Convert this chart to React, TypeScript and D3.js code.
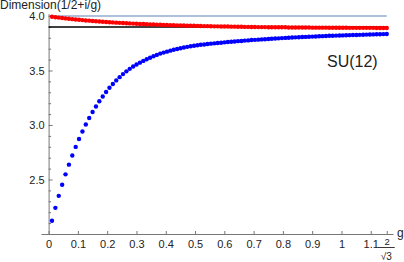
import { useEffect, useRef } from 'react'
import * as d3 from 'd3'

// sample points g_k (k = 1..100, up to 2/sqrt(3))
const gValues = [
  0.0115, 0.0231, 0.0346, 0.0462, 0.0577, 0.0693, 0.0808, 0.0924, 0.1039, 0.1155,
  0.127, 0.1386, 0.1501, 0.1617, 0.1732, 0.1848, 0.1963, 0.2078, 0.2194, 0.2309,
  0.2425, 0.254, 0.2656, 0.2771, 0.2887, 0.3002, 0.3118, 0.3233, 0.3349, 0.3464,
  0.358, 0.3695, 0.3811, 0.3926, 0.4041, 0.4157, 0.4272, 0.4388, 0.4503, 0.4619,
  0.4734, 0.485, 0.4965, 0.5081, 0.5196, 0.5312, 0.5427, 0.5543, 0.5658, 0.5774,
  0.5889, 0.6004, 0.612, 0.6235, 0.6351, 0.6466, 0.6582, 0.6697, 0.6813, 0.6928,
  0.7044, 0.7159, 0.7275, 0.739, 0.7506, 0.7621, 0.7737, 0.7852, 0.7967, 0.8083,
  0.8198, 0.8314, 0.8429, 0.8545, 0.866, 0.8776, 0.8891, 0.9007, 0.9122, 0.9238,
  0.9353, 0.9469, 0.9584, 0.97, 0.9815, 0.993, 1.0046, 1.0161, 1.0277, 1.0392,
  1.0508, 1.0623, 1.0739, 1.0854, 1.097, 1.1085, 1.1201, 1.1316, 1.1432, 1.1547,
]

const blueValues = [
  2.122, 2.24, 2.35, 2.452, 2.547, 2.636, 2.72, 2.799, 2.872, 2.94,
  3.004, 3.064, 3.119, 3.17, 3.218, 3.262, 3.303, 3.341, 3.376, 3.409,
  3.439, 3.467, 3.492, 3.515, 3.536, 3.555, 3.572, 3.588, 3.603, 3.617,
  3.63, 3.643, 3.655, 3.664, 3.673, 3.682, 3.69, 3.697, 3.704, 3.711,
  3.717, 3.722, 3.727, 3.732, 3.736, 3.739, 3.743, 3.746, 3.749, 3.752,
  3.755, 3.758, 3.761, 3.764, 3.766, 3.769, 3.771, 3.774, 3.776, 3.779,
  3.781, 3.783, 3.785, 3.787, 3.789, 3.791, 3.793, 3.795, 3.797, 3.799,
  3.8, 3.802, 3.804, 3.805, 3.807, 3.808, 3.81, 3.811, 3.812, 3.814,
  3.815, 3.816, 3.818, 3.819, 3.82, 3.821, 3.822, 3.823, 3.824, 3.825,
  3.826, 3.827, 3.828, 3.829, 3.83, 3.831, 3.832, 3.833, 3.834, 3.835,
]

const redValues = [
  3.993, 3.989, 3.985, 3.981, 3.978, 3.974, 3.971, 3.968, 3.965, 3.962,
  3.959, 3.957, 3.954, 3.952, 3.949, 3.947, 3.945, 3.943, 3.941, 3.939,
  3.937, 3.935, 3.933, 3.932, 3.93, 3.929, 3.927, 3.926, 3.924, 3.923,
  3.922, 3.921, 3.92, 3.918, 3.917, 3.916, 3.915, 3.914, 3.913, 3.912,
  3.911, 3.911, 3.91, 3.909, 3.908, 3.907, 3.907, 3.906, 3.905, 3.905,
  3.904, 3.903, 3.903, 3.902, 3.902, 3.901, 3.901, 3.9, 3.9, 3.899,
  3.899, 3.898, 3.898, 3.898, 3.897, 3.897, 3.897, 3.896, 3.896, 3.896,
  3.895, 3.895, 3.895, 3.894, 3.894, 3.894, 3.894, 3.893, 3.893, 3.893,
  3.893, 3.893, 3.892, 3.892, 3.892, 3.892, 3.892, 3.892, 3.891, 3.891,
  3.891, 3.891, 3.891, 3.891, 3.891, 3.891, 3.89, 3.89, 3.89, 3.89,
]

const xTickValues = [0, 0.1, 0.2, 0.3, 0.4, 0.5, 0.6, 0.7, 0.8, 0.9, 1, 1.1]
const gMax = 1.1547 // 2/sqrt(3)
const yMajorTicks = [2.5, 3.0, 3.5, 4.0]
const yMinorTicks = [2.1, 2.2, 2.3, 2.4, 2.6, 2.7, 2.8, 2.9, 3.1, 3.2, 3.3, 3.4, 3.6, 3.7, 3.8, 3.9]
const upperLevel = 4.0
const lowerLevel = 3.9

const FONT = "'Liberation Sans', Arial, sans-serif"

export default function App() {
  const svgRef = useRef<SVGSVGElement>(null)

  useEffect(() => {
    if (!svgRef.current) return
    const svg = d3.select(svgRef.current)
    svg.selectAll('*').remove()

    const width = 404
    const height = 262

    svg.attr('width', width).attr('height', height)

    const xScale = d3.scaleLinear().domain([-0.026, 1.176]).range([41, 393])
    const yScale = d3.scaleLinear().domain([2, 4.02]).range([234, 13.8])

    // x axis
    const xAxis = d3
      .axisBottom(xScale)
      .tickValues([...xTickValues, gMax])
      .tickSize(-3)
      .tickSizeOuter(0)
      .tickPadding(6)
      .tickFormat(d => (d === gMax ? '' : String(d)))

    const gx = svg.append('g').attr('transform', 'translate(0,234)').call(xAxis)
    gx.select('.domain').attr('stroke', '#777')
    gx.selectAll('.tick line').attr('stroke', '#777')
    gx.selectAll('.tick text')
      .attr('fill', '#222')
      .style('font-family', FONT)
      .style('font-size', '11px')

    // y axis
    const yAxis = d3
      .axisLeft(yScale)
      .tickValues(yMajorTicks)
      .tickSize(-4)
      .tickSizeOuter(0)
      .tickPadding(4)
      .tickFormat(d3.format('.1f') as any)

    const gy = svg.append('g').attr('transform', 'translate(48.6,0)').call(yAxis)
    gy.select('.domain').attr('stroke', '#777')
    gy.selectAll('.tick line').attr('stroke', '#777')
    gy.selectAll('.tick text')
      .attr('fill', '#222')
      .style('font-family', FONT)
      .style('font-size', '11px')

    const yMinor = d3
      .axisLeft(yScale)
      .tickValues(yMinorTicks)
      .tickSize(-2.5)
      .tickSizeOuter(0)
      .tickFormat(() => '')
    const gyMinor = svg.append('g').attr('transform', 'translate(48.6,0)').call(yMinor)
    gyMinor.select('.domain').remove()
    gyMinor.selectAll('.tick line').attr('stroke', '#777')

    // reference lines
    svg.append('line')
      .attr('x1', xScale(0))
      .attr('x2', xScale(gMax))
      .attr('y1', yScale(upperLevel))
      .attr('y2', yScale(upperLevel))
      .attr('stroke', '#5e81b5')
      .attr('stroke-width', 1.2)

    svg.append('line')
      .attr('x1', xScale(0))
      .attr('x2', xScale(gMax))
      .attr('y1', yScale(lowerLevel))
      .attr('y2', yScale(lowerLevel))
      .attr('stroke', '#000')
      .attr('stroke-width', 1.5)

    // points
    const redData = gValues.map((g, i) => ({ g, v: redValues[i] }))
    const blueData = gValues.map((g, i) => ({ g, v: blueValues[i] }))

    svg.append('g')
      .selectAll('circle')
      .data(redData)
      .join('circle')
      .attr('cx', d => xScale(d.g))
      .attr('cy', d => yScale(d.v))
      .attr('r', 2.2)
      .attr('fill', '#ff0000')

    svg.append('g')
      .selectAll('circle')
      .data(blueData)
      .join('circle')
      .attr('cx', d => xScale(d.g))
      .attr('cy', d => yScale(d.v))
      .attr('r', 2.2)
      .attr('fill', '#0000ff')

    // 2/sqrt(3) tick label
    const fx = xScale(gMax) - 0.5
    const frac = svg.append('g').style('font-family', FONT).attr('fill', '#222')
    frac.append('text')
      .attr('x', fx + 1)
      .attr('y', 245)
      .attr('text-anchor', 'middle')
      .style('font-size', '9.5px')
      .text('2')
    frac.append('line')
      .attr('x1', fx - 8.5)
      .attr('x2', fx + 8.5)
      .attr('y1', 247.5)
      .attr('y2', 247.5)
      .attr('stroke', '#222')
      .attr('stroke-width', 0.9)
    frac.append('text')
      .attr('x', fx)
      .attr('y', 259.5)
      .attr('text-anchor', 'middle')
      .style('font-size', '10px')
      .text('√3')

    // axis labels
    svg.append('text')
      .attr('x', 0)
      .attr('y', 8.5)
      .attr('fill', '#222')
      .style('font-family', FONT)
      .style('font-size', '12px')
      .text('Dimension(1/2+i/g)')

    svg.append('text')
      .attr('x', 397)
      .attr('y', 237)
      .attr('fill', '#222')
      .style('font-family', FONT)
      .style('font-size', '12px')
      .text('g')

    svg.append('text')
      .attr('x', 327)
      .attr('y', 67)
      .attr('fill', '#222')
      .style('font-family', FONT)
      .style('font-size', '16px')
      .text('SU(12)')
  }, [])

  return (
    <div style={{ position: 'absolute', left: 0, top: 0, width: 404, height: 262, background: '#fff' }}>
      <svg ref={svgRef} width={404} height={262} style={{ display: 'block' }} />
    </div>
  )
}
